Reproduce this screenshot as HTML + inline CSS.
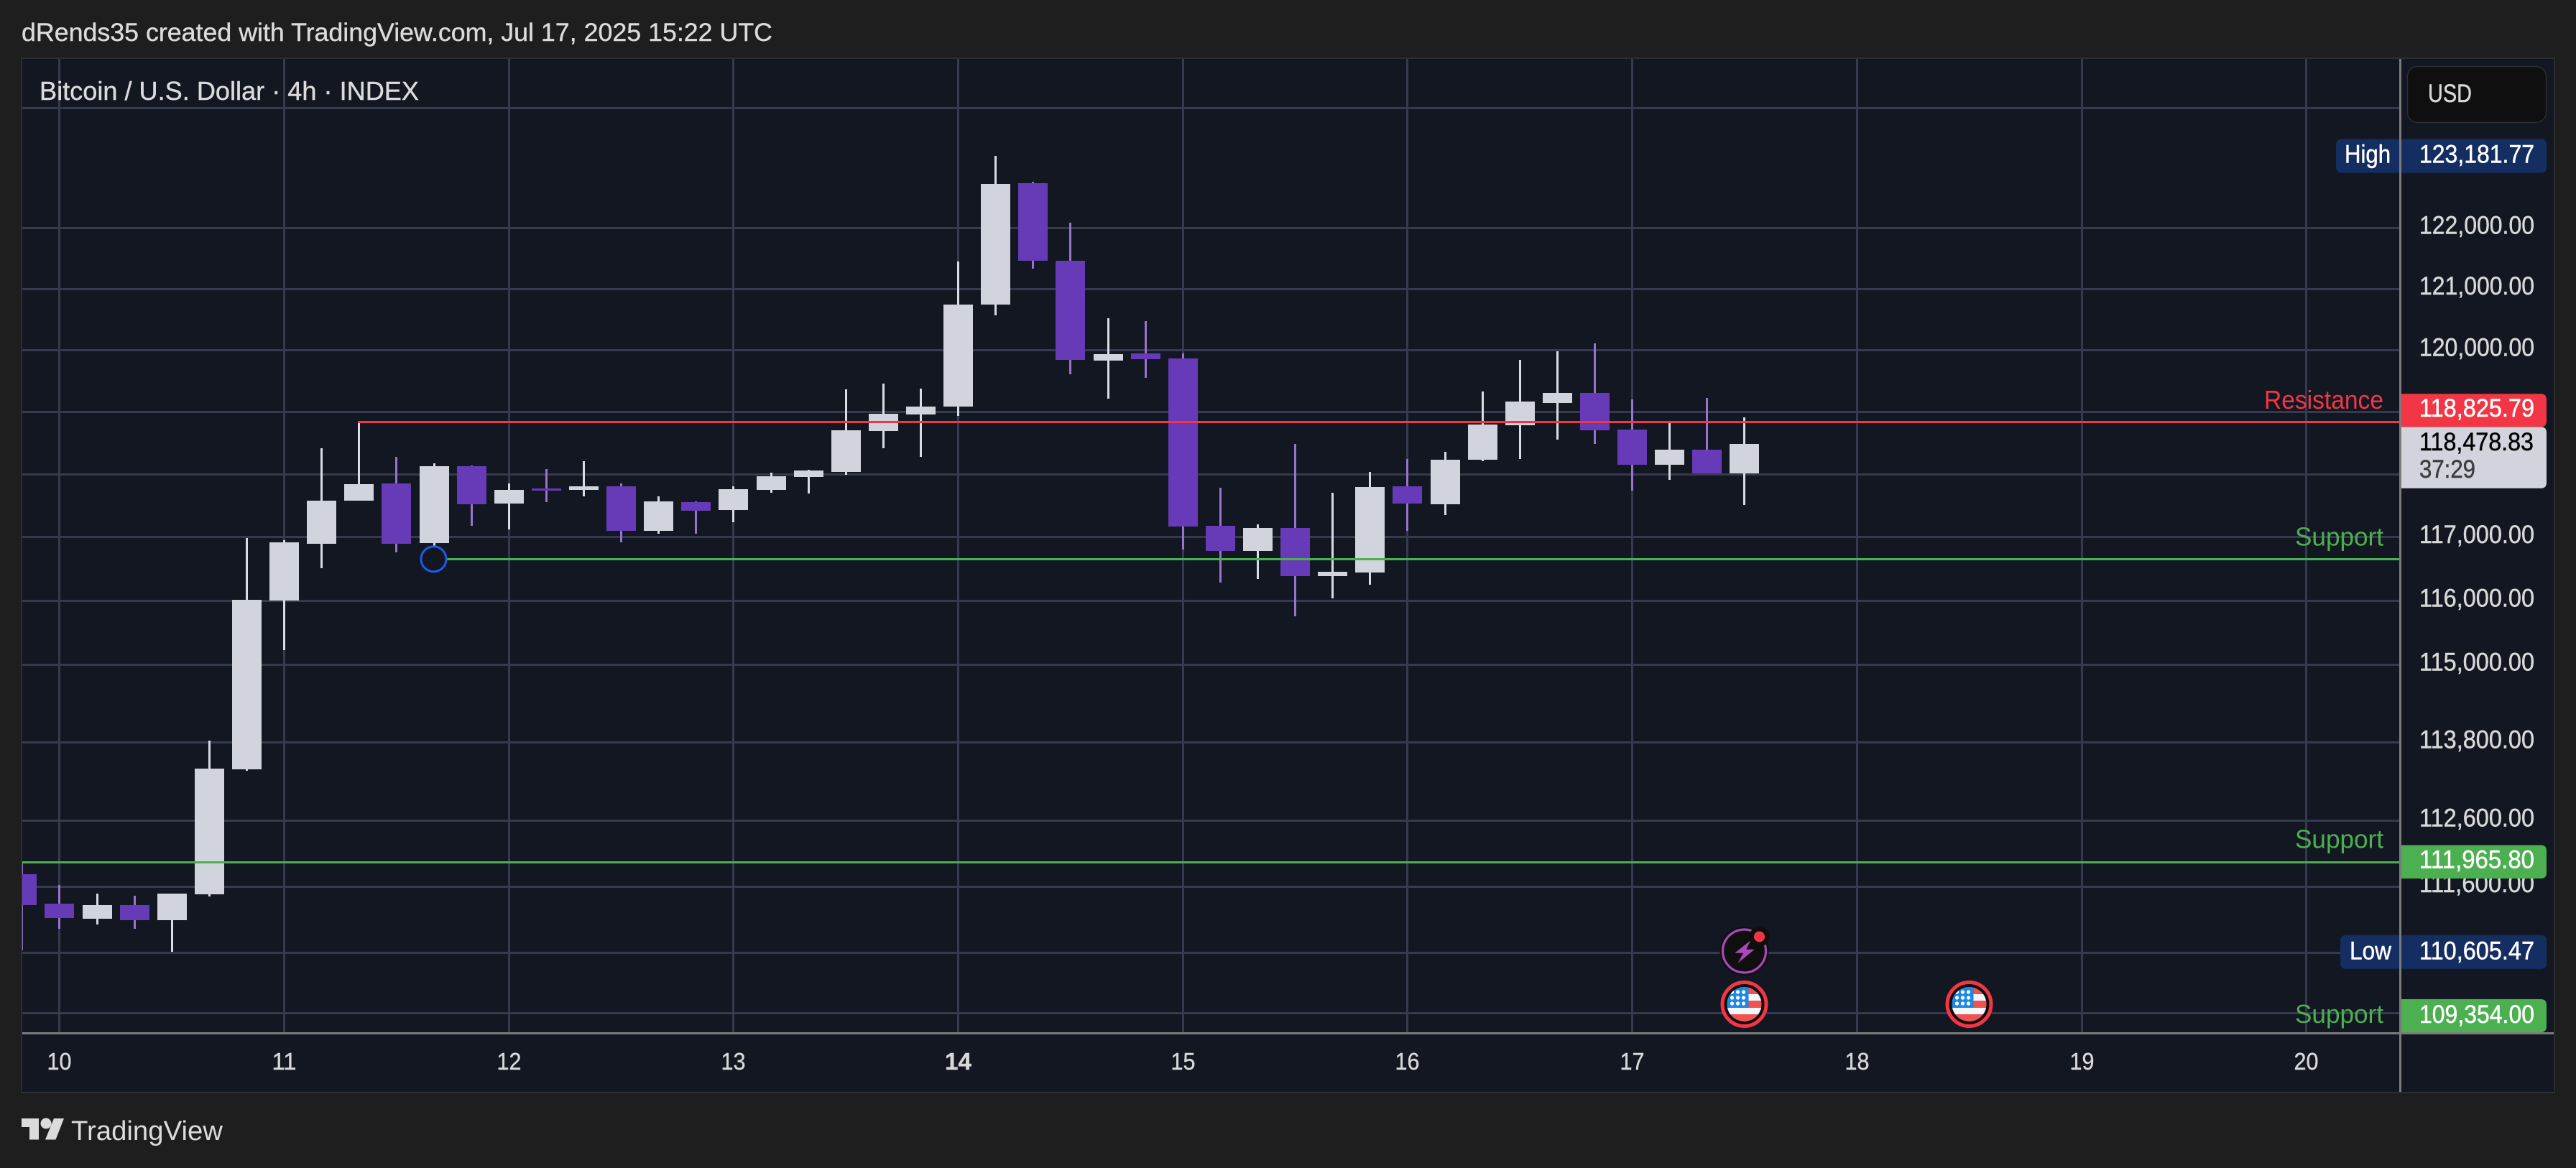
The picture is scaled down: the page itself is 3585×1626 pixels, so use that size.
<!DOCTYPE html>
<html lang="en">
<head>
<meta charset="utf-8">
<title>Bitcoin / U.S. Dollar 4h chart</title>
<style>
html,body{margin:0;padding:0;background:#1e1e1e;width:3585px;height:1626px;overflow:hidden}
svg{display:block}
text{font-family:"Liberation Sans",sans-serif}
</style>
</head>
<body>
<svg id="chart" xmlns="http://www.w3.org/2000/svg" width="3585" height="1626" viewBox="0 0 3585 1626">
  <defs>
    <clipPath id="pane-clip"><rect x="31" y="82" width="3308" height="1355"/></clipPath>
    <clipPath id="flag-clip"><circle cx="0" cy="0" r="24"/></clipPath>
    <g id="us-flag">
      <circle r="33" fill="#0f0f0f"/>
      <circle r="30.5" fill="none" stroke="#f23645" stroke-width="5"/>
      <g clip-path="url(#flag-clip)">
        <rect x="-24" y="-24" width="48" height="48" fill="#ef5350"/>
        <rect x="-24" y="-14" width="48" height="9" fill="#f5f7ff"/>
        <rect x="-24" y="5" width="48" height="9" fill="#f5f7ff"/>
        <rect x="-24" y="-24" width="30" height="29" fill="#1e88e5"/>
        <g fill="#ffffff">
          <circle cx="-17" cy="-17" r="2.6"/><circle cx="-9" cy="-17" r="2.6"/><circle cx="-1" cy="-17" r="2.6"/>
          <circle cx="-17" cy="-9" r="2.6"/><circle cx="-9" cy="-9" r="2.6"/><circle cx="-1" cy="-9" r="2.6"/>
          <circle cx="-17" cy="-1" r="2.6"/><circle cx="-9" cy="-1" r="2.6"/><circle cx="-1" cy="-1" r="2.6"/>
        </g>
      </g>
    </g>
  </defs>

  <rect x="0" y="0" width="3585" height="1626" fill="#1e1e1e"/>
  <text x="30" y="57" font-size="35" fill="#dbdbdb" stroke="#dbdbdb" stroke-width="0.4" textLength="1045" lengthAdjust="spacingAndGlyphs">dRends35 created with TradingView.com, Jul 17, 2025 15:22 UTC</text>

  <rect x="30" y="81" width="3525" height="1440" fill="#131722" stroke="#2d2d2d" stroke-width="2"/>

  <g id="grid"></g>
  <g id="candles" clip-path="url(#pane-clip)"></g>
  <g id="drawings" clip-path="url(#pane-clip)"></g>

  <text x="55" y="139" font-size="36" fill="#dbdbdb" stroke="#dbdbdb" stroke-width="0.4" textLength="528" lengthAdjust="spacingAndGlyphs">Bitcoin / U.S. Dollar · 4h · INDEX</text>

  <g id="price-ticks"></g>
  <g id="day-ticks"></g>
  <g id="events"></g>
  <g id="badges"></g>

  <rect x="3339" y="82" width="3" height="1438" fill="#7b7b7b"/>
  <rect x="31" y="1437" width="3523" height="3" fill="#7b7b7b"/>

  <g>
    <rect x="3350.5" y="92.5" width="193" height="78" rx="14" fill="#0f0f0f" stroke="#2e2e2e" stroke-width="1.5"/>
    <text x="3379" y="142" font-size="35" fill="#d8d8d8" stroke="#d8d8d8" stroke-width="0.5" textLength="61" lengthAdjust="spacingAndGlyphs">USD</text>
  </g>

  <g fill="#dbdbdb">
    <path d="M30 1557H54V1586.5H41V1569H30Z"/>
    <circle cx="64" cy="1564" r="7.5"/>
    <path d="M75 1557H89L77.5 1586.5H63Z"/>
    <text x="99" y="1587" font-size="38" textLength="211" lengthAdjust="spacingAndGlyphs">TradingView</text>
  </g>
</svg>

<script>
// ---- chart data ----
const firstCandleIndex = -1; // candle offset from Jul 10 00:00, in 4h bars
const opens = [111776,111332,111105,111311,111084,111473,113374,115992,116890,117572,117844,116901,118119,117526,117765,117742,117799,117095,117549,117424,117742,117947,118026,118682,118946,119073,120733,122731,121451,119817,119934,119852,117174,116776,117140,116379,116435,117799,117515,118222,118774,119131,119294,118705,118142,118383,118003];
const highs = [111960,111614,111484,111451,111484,113816,116981,116947,118406,118831,118268,118165,118130,117844,118072,118199,117844,117640,117560,117799,118015,118061,119352,119445,119364,121439,123181.77,122754,122075,120510,120463,119934,117776,117197,118475,117697,118023,118234,118350,119317,119829,119969,120097,119190,118831,119213,118900];
const lows = [110632,110954,111019,110954,110605.47,111441,113352,115217,116504,117572,116753,116856,117174,117117,117549,117640,116913,117049,117049,117231,117697,117686,117981,118406,118268,118923,120557,121321,119596,119201,119538,116799,116276,116333,115745,116026,116242,117095,117345,118199,118234,118544,118475,117731,117901,118003,117504];
const closes = [111311,111116,111311,111084,111484,113385,116003,116913,117572,117833,116890,118119,117515,117742,117731,117799,117095,117560,117413,117753,117958,118049,118693,118957,119073,120733,122719,121451,119829,119922,119840,117163,116776,117140,116379,116447,117788,117526,118222,118785,119155,119294,118693,118142,118383,118003,118478.83];
const dayLabels = ["10","11","12","13","14","15","16","17","18","19","20"];
const boldDayLabels = ["14"];
const priceTicks = [124000,122000,121000,120000,119000,118000,117000,116000,115000,113800,112600,111600,110600,109700];
const resistanceLevels = [118825.79];
const supportLevels = [116644,111965.80,109354];
const highLowLevels = [123181.77,110605.47];
const lastPrices = [118478.83];
const countdownLabels = ["37:29"];
const flagEventIndices = [45,51];
const boltEventIndices = [45];

// ---- axis functions ----
const SVG_NS = 'http://www.w3.org/2000/svg';
const paneBottom = 1437, axisLeft = 3339, textX = 3367;
function xOf(i){ return Math.floor(82.9 + 52.113 * i) + 0.5; }
function yOf(p){ return 835.3 + 10290 * Math.log(116000 / p); }
function fmt(p){ return p.toLocaleString('en-US',{minimumFractionDigits:2,maximumFractionDigits:2}); }
function make(tag, props, parent){
  const el = document.createElementNS(SVG_NS, tag);
  for (const k in props) el.setAttribute(k, props[k]);
  if (parent) parent.appendChild(el);
  return el;
}
const grid = document.getElementById('grid');
const candles = document.getElementById('candles');
const drawings = document.getElementById('drawings');
const priceG = document.getElementById('price-ticks');
const dayG = document.getElementById('day-ticks');
const eventsG = document.getElementById('events');
const badgesG = document.getElementById('badges');

// ---- grid + tick labels ----
priceTicks.forEach(function(p){
  const y = Math.floor(yOf(p));
  const line = make('rect',{x:31,y:y,width:axisLeft-31,height:3,fill:'#363a4e'},grid);
  
  
  const t = make('text',{x:textX,y:yOf(p)+9,'font-size':35,fill:'#d8d8d8',stroke:'#d8d8d8','stroke-width':0.5,textLength:160,lengthAdjust:'spacingAndGlyphs'},priceG);
  
  
  t.textContent = fmt(p);
});
dayLabels.forEach(function(d,k){
  const x = xOf(k*6);
  const line = make('rect',{x:x-1.5,y:82,width:3,height:paneBottom-82,fill:'#363a4e'},grid);
  
  
  const bold = boldDayLabels.indexOf(d) >= 0;
  const t = make('text',{x:x,y:1489,'font-size':33,fill:'#d8d8d8',stroke:'#d8d8d8','stroke-width':0.4,'text-anchor':'middle',textLength:bold?37:34,lengthAdjust:'spacingAndGlyphs','font-weight':bold?'bold':'normal'},dayG);
  
  
  t.textContent = d;
});

// ---- candles ----
opens.forEach(function(o,n){
  const c = closes[n], h = highs[n], l = lows[n];
  const up = c >= o;
  const x = xOf(firstCandleIndex + n);
  const top = Math.round(yOf(Math.max(o,c)));
  const bot = Math.round(yOf(Math.min(o,c)));
  const wt = Math.round(yOf(h));
  const wb = Math.round(yOf(l));
  const wick = make('rect',{x:x-1.5,y:wt,width:3,height:Math.max(1,wb-wt),fill:up?'#d9dce4':'#9575cd'},candles);
  
  
  const body = make('rect',{x:x-20.5,y:top,width:41,height:Math.max(1,bot-top),fill:up?'#d1d4dc':'#673ab7'},candles);
  
  
});

// ---- drawn levels ----
const resistanceY = yOf(resistanceLevels[0]);
const resLine = make('rect',{x:498,y:Math.floor(resistanceY)-1,width:axisLeft-498,height:3,fill:'#f23645'},drawings);



const support1Y = yOf(supportLevels[0]);
const sup1 = make('rect',{x:622,y:Math.floor(support1Y)-1,width:axisLeft-622,height:3,fill:'#4caf50'},drawings);


const marker = make('circle',{cx:603.5,cy:support1Y,r:17.5,fill:'none',stroke:'#1e5ae6','stroke-width':3},drawings);



const support2Y = yOf(supportLevels[1]);
const sup2 = make('rect',{x:31,y:Math.floor(support2Y),width:axisLeft-31,height:3,fill:'#4caf50'},drawings);



// ---- line captions ----
const resCap = make('text',{x:3151,y:resistanceY-18.5,'font-size':36,fill:'#f23645',textLength:166,lengthAdjust:'spacingAndGlyphs'},badgesG);


resCap.textContent = 'Resistance';

const supportCaptionY = [support1Y-19, support2Y-19, Math.min(yOf(supportLevels[2]),1414)+10];
supportCaptionY.forEach(function(y){
  const t = make('text',{x:3194,y:y,'font-size':36,fill:'#4caf50',textLength:123,lengthAdjust:'spacingAndGlyphs'},badgesG);
  
  
  t.textContent = 'Support';
});

// ---- event icons ----
boltEventIndices.forEach(function(i){
  const g = make('g',{transform:'translate('+xOf(i)+',1324)'},eventsG);
  
  
  make('circle',{r:34,fill:'#0f0f0f'},g);
  make('circle',{r:30,fill:'none',stroke:'#ab47bc','stroke-width':3.2},g);
  make('polygon',{points:'8.7,-14.7 -13.3,2.7 -1.3,2.7 -9,16.7 14.3,-2.3 2.7,-2.3',fill:'#ab47bc'},g);
  make('circle',{cx:21,cy:-20,r:14,fill:'#0f0f0f'},g);
  make('circle',{cx:21,cy:-20,r:7.5,fill:'#f23645'},g);
});
flagEventIndices.forEach(function(i){
  const u = make('use',{href:'#us-flag',transform:'translate('+xOf(i)+',1398)'},eventsG);
  
  
});

// ---- axis badges ----
function badgeRect(x,y,w,h,fill){
  return make('path',{d:'M'+x+' '+y+'H'+(x+w-8)+'Q'+(x+w)+' '+y+' '+(x+w)+' '+(y+8)+'V'+(y+h-8)+'Q'+(x+w)+' '+(y+h)+' '+(x+w-8)+' '+(y+h)+'H'+x+'Z',fill:fill},badgesG);
}
function badgeText(str,x,y,w,fill){
  return make('text',{x:x,y:y,'font-size':35,fill:fill,stroke:fill,'stroke-width':0.5,textLength:w,lengthAdjust:'spacingAndGlyphs'},badgesG);
}

// high badge
const highY = yOf(highLowLevels[0]);
const highBox = make('rect',{x:3251,y:highY-23.5,width:293,height:47,rx:7,fill:'#142e61'},badgesG);


const highCap = badgeText('High',3263,highY+9.5,64,'#ffffff');


highCap.textContent = 'High';
const highVal = badgeText('',textX,highY+9.5,160,'#ffffff');


highVal.textContent = fmt(highLowLevels[0]);

// low badge
const lowY = yOf(highLowLevels[1]);
const lowBox = make('rect',{x:3257,y:lowY-23.5,width:287,height:47,rx:7,fill:'#142e61'},badgesG);


const lowCap = badgeText('Low',3270,lowY+10,58,'#ffffff');


lowCap.textContent = 'Low';
const lowVal = badgeText('',textX,lowY+10,160,'#ffffff');


lowVal.textContent = fmt(highLowLevels[1]);

// last price badge, resistance badge stacked above it
const lastY = yOf(lastPrices[0]);
const lastTop = lastY - 23.5;
const lastBox = badgeRect(3342,lastTop,202,85.5,'#d1d4dc');


const lastVal = badgeText('',textX,lastY+9.5,159,'#000000');


lastVal.textContent = fmt(lastPrices[0]);
const cd = badgeText('',textX,lastY+47.5,78,'#3d3d3d');


cd.textContent = countdownLabels[0];

const resBox = badgeRect(3342,lastTop-46,202,46,'#f23645');


const resVal = badgeText('',textX,lastTop-14,160,'#ffffff');


resVal.textContent = fmt(resistanceLevels[0]);

// support badges
const sup2Box = badgeRect(3342,support2Y-23,202,46.5,'#4caf50');


const sup2Val = badgeText('',textX,support2Y+9,160,'#ffffff');


sup2Val.textContent = fmt(supportLevels[1]);

const sup3Y = Math.min(yOf(supportLevels[2]),1414);
const sup3Box = badgeRect(3342,sup3Y-23,202,46,'#4caf50');


const sup3Val = badgeText('',textX,sup3Y+10,160,'#ffffff');


sup3Val.textContent = fmt(supportLevels[2]);
</script>
</body>
</html>
